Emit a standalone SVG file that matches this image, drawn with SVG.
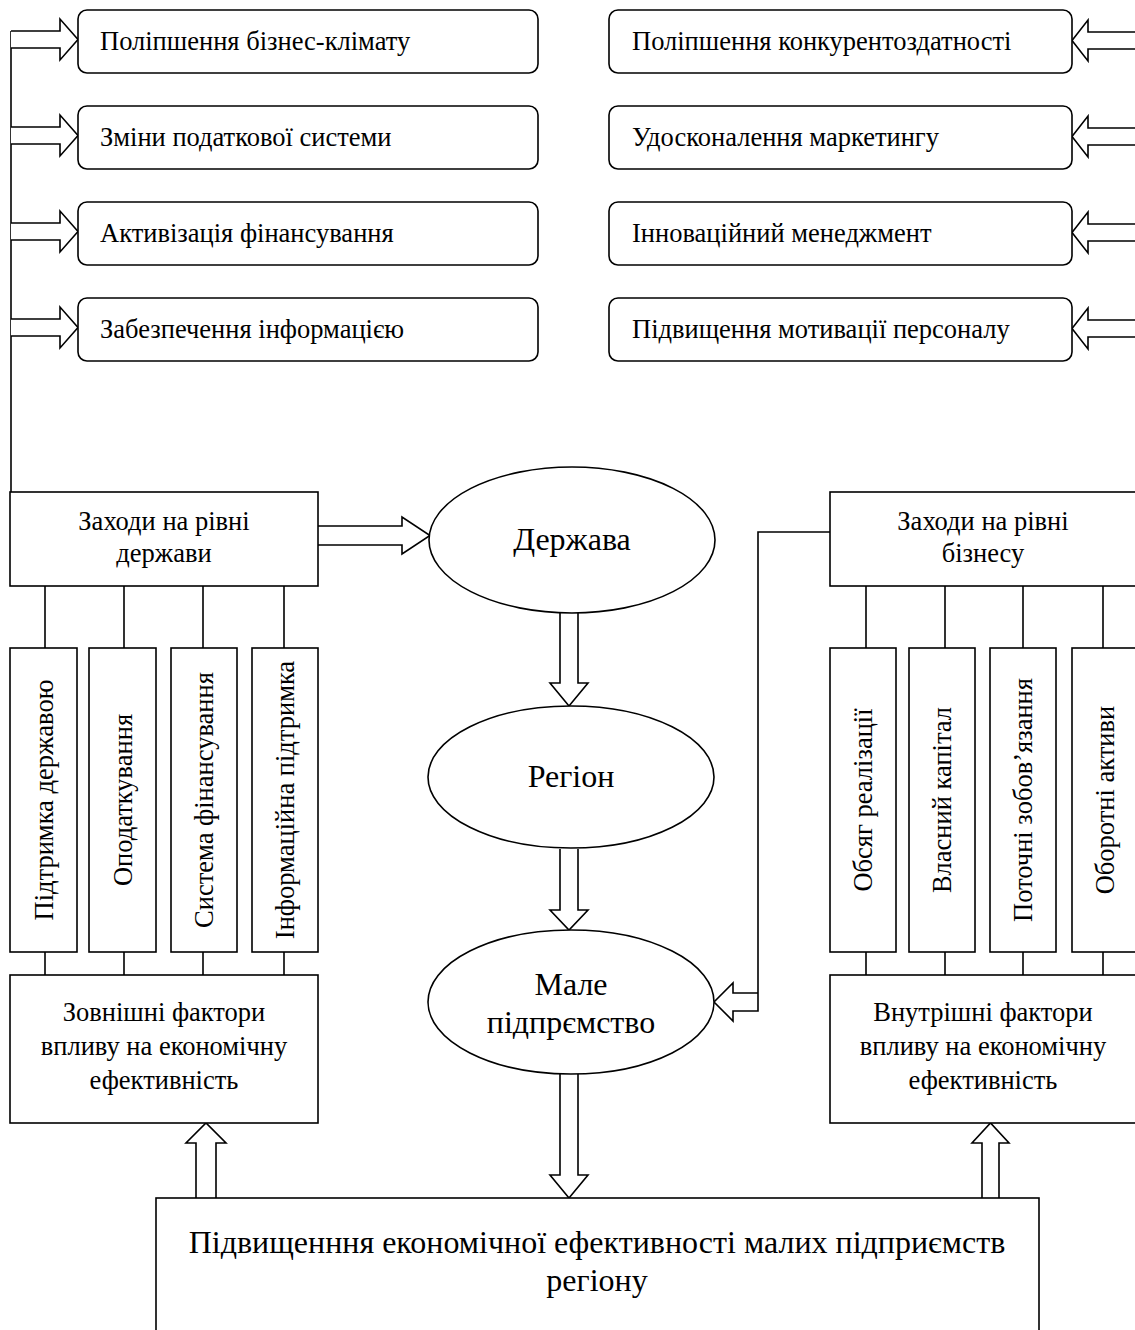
<svg xmlns="http://www.w3.org/2000/svg" width="1135" height="1330" viewBox="0 0 1135 1330">
<style>
.box{fill:#fff;stroke:#000;stroke-width:1.6}
.ln{fill:none;stroke:#000;stroke-width:1.6}
.arr{fill:#fff;stroke:#000;stroke-width:1.6;stroke-linejoin:miter}
text{font-family:"Liberation Serif","Times New Roman",serif;fill:#000}
.t{font-size:26.5px}
.tc{font-size:26.5px;text-anchor:middle}
.te{font-size:32px;text-anchor:middle}
.tb{font-size:32px;text-anchor:middle}
.tv{font-size:26.5px;text-anchor:middle;dominant-baseline:central}
</style>
<rect width="1135" height="1330" fill="#fff"/>

<g id="connectors">
  <path class="ln" d="M11,31 V492"/>
  <path class="arr" d="M11,31 H60 V19 L78,39.5 L60,60 V48 H11"/>
  <path class="arr" d="M11,127 H60 V115 L78,135.5 L60,156 V144 H11"/>
  <path class="arr" d="M11,223 H60 V211 L78,231.5 L60,252 V240 H11"/>
  <path class="arr" d="M11,319 H60 V307 L78,327.5 L60,348 V336 H11"/>
  <path class="arr" d="M1136,32 H1088 V20 L1072,40.5 L1088,61 V49 H1136"/>
  <path class="arr" d="M1136,128 H1088 V116 L1072,136.5 L1088,157 V145 H1136"/>
  <path class="arr" d="M1136,224 H1088 V212 L1072,232.5 L1088,253 V241 H1136"/>
  <path class="arr" d="M1136,320 H1088 V308 L1072,328.5 L1088,349 V337 H1136"/>
  <path class="arr" d="M318,526 H402 V517 L430,535.5 L402,554 V545 H318"/>
  <path class="arr" d="M560,613 V683 H550 L569,706 L588,683 H578 V613"/>
  <path class="arr" d="M560,849 V910 H550 L569,930 L588,910 H578 V849"/>
  <path class="arr" d="M560,1074 V1175 H550 L569,1198 L588,1175 H578 V1074"/>
  <path class="arr" d="M196,1198 V1143 H186 L206,1123 L226,1143 H216 V1198"/>
  <path class="arr" d="M982,1198 V1143 H972 L990.5,1123 L1009,1143 H999 V1198"/>
  <path class="arr" d="M830,532 H758 V1011 H733 V1021 L714,1002 L733,983 V993 H758"/>
  <path class="ln" d="M45,586 V648 M124,586 V648 M203,586 V648 M284,586 V648"/>
  <path class="ln" d="M866,586 V648 M945,586 V648 M1023,586 V648 M1103,586 V648"/>
  <path class="ln" d="M45,952 V975 M124,952 V975 M203,952 V975 M284,952 V975"/>
  <path class="ln" d="M866,952 V975 M945,952 V975 M1023,952 V975 M1103,952 V975"/>
</g>

<g id="n-klimat"><rect class="box" x="78" y="10" width="460" height="63" rx="9"/><text class="t" x="100" y="50">Поліпшення бізнес-клімату</text></g>
<g id="n-podatok"><rect class="box" x="78" y="106" width="460" height="63" rx="9"/><text class="t" x="100" y="146">Зміни податкової системи</text></g>
<g id="n-finans"><rect class="box" x="78" y="202" width="460" height="63" rx="9"/><text class="t" x="100" y="242">Активізація фінансування</text></g>
<g id="n-info"><rect class="box" x="78" y="298" width="460" height="63" rx="9"/><text class="t" x="100" y="338">Забезпечення інформацією</text></g>

<g id="n-konk"><rect class="box" x="609" y="10" width="463" height="63" rx="9"/><text class="t" x="632" y="50">Поліпшення конкурентоздатності</text></g>
<g id="n-market"><rect class="box" x="609" y="106" width="463" height="63" rx="9"/><text class="t" x="632" y="146">Удосконалення маркетингу</text></g>
<g id="n-innov"><rect class="box" x="609" y="202" width="463" height="63" rx="9"/><text class="t" x="632" y="242">Інноваційний менеджмент</text></g>
<g id="n-motiv"><rect class="box" x="609" y="298" width="463" height="63" rx="9"/><text class="t" x="632" y="338">Підвищення мотивації персоналу</text></g>

<g id="n-zahody-derzh"><rect class="box" x="10" y="492" width="308" height="94"/><text class="tc" x="164" y="530">Заходи на рівні</text><text class="tc" x="164" y="562">держави</text></g>
<g id="n-zahody-biz"><rect class="box" x="830" y="492" width="310" height="94"/><text class="tc" x="983" y="530">Заходи на рівні</text><text class="tc" x="983" y="562">бізнесу</text></g>

<g id="n-derzhava"><ellipse class="box" cx="572" cy="540" rx="143" ry="73"/><text class="te" x="572" y="550">Держава</text></g>
<g id="n-region"><ellipse class="box" cx="571" cy="777" rx="143" ry="71"/><text class="te" x="571" y="787">Регіон</text></g>
<g id="n-male"><ellipse class="box" cx="571" cy="1002" rx="143" ry="72"/><text class="te" x="571" y="995">Мале</text><text class="te" x="571" y="1033">підпрємство</text></g>

<g id="n-v1"><rect class="box" x="10" y="648" width="67" height="304"/><text class="tv" transform="rotate(-90 43.5 800)" x="43.5" y="800">Підтримка державою</text></g>
<g id="n-v2"><rect class="box" x="89" y="648" width="67" height="304"/><text class="tv" transform="rotate(-90 122.5 800)" x="122.5" y="800">Оподаткування</text></g>
<g id="n-v3"><rect class="box" x="171" y="648" width="66" height="304"/><text class="tv" transform="rotate(-90 204 800)" x="204" y="800">Система фінансування</text></g>
<g id="n-v4"><rect class="box" x="252" y="648" width="66" height="304"/><text class="tv" transform="rotate(-90 285 800)" x="285" y="800">Інформаційна підтримка</text></g>

<g id="n-v5"><rect class="box" x="830" y="648" width="66" height="304"/><text class="tv" transform="rotate(-90 863 800)" x="863" y="800">Обсяг реалізації</text></g>
<g id="n-v6"><rect class="box" x="909" y="648" width="66" height="304"/><text class="tv" transform="rotate(-90 942 800)" x="942" y="800">Власний капітал</text></g>
<g id="n-v7"><rect class="box" x="990" y="648" width="66" height="304"/><text class="tv" transform="rotate(-90 1023 800)" x="1023" y="800">Поточні зобов’язання</text></g>
<g id="n-v8"><rect class="box" x="1072" y="648" width="70" height="304"/><text class="tv" transform="rotate(-90 1105 800)" x="1105" y="800">Оборотні активи</text></g>

<g id="n-zovn"><rect class="box" x="10" y="975" width="308" height="148"/><text class="tc" x="164" y="1021">Зовнішні фактори</text><text class="tc" x="164" y="1055">впливу на економічну</text><text class="tc" x="164" y="1089">ефективність</text></g>
<g id="n-vnutr"><rect class="box" x="830" y="975" width="310" height="148"/><text class="tc" x="983" y="1021">Внутрішні фактори</text><text class="tc" x="983" y="1055">впливу на економічну</text><text class="tc" x="983" y="1089">ефективність</text></g>

<g id="n-result"><rect class="box" x="156" y="1198" width="883" height="140"/><text class="tb" x="597" y="1253">Підвищенння економічної ефективності малих підприємств</text><text class="tb" x="597" y="1291">регіону</text></g>
</svg>
